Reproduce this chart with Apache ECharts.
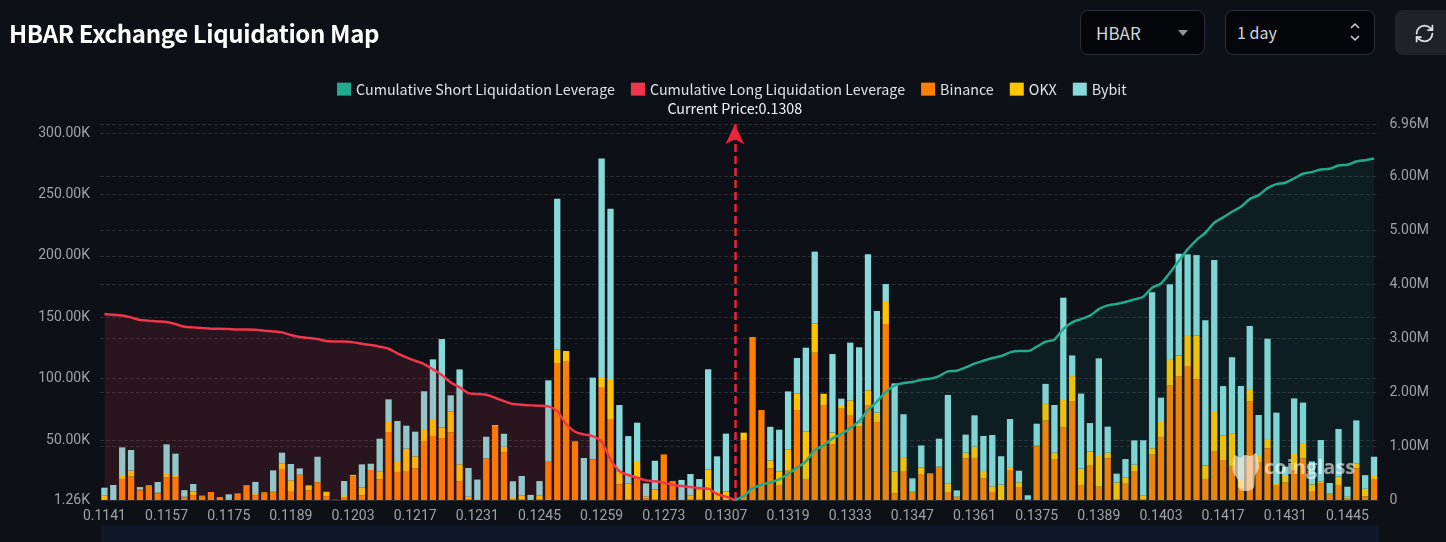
<!DOCTYPE html>
<html>
<head>
<meta charset="utf-8">
<title>HBAR Exchange Liquidation Map</title>
<script src="https://cdn.jsdelivr.net/npm/echarts@6/dist/echarts.min.js"></script>
<style>
  html, body { margin: 0; padding: 0; background: #0d1017; overflow: hidden; }
  #page { position: relative; width: 1446px; height: 542px; font-family: "Noto Sans CJK SC", "Noto Sans", sans-serif; }
  #chart { position: absolute; left: 0; top: 0; width: 1446px; height: 542px; }
  h1 { position: absolute; left: 9px; top: 16px; margin: 0; font-size: 24px; line-height: 34px; font-weight: 700; color: #fff; letter-spacing: -0.37px; }
  .box { position: absolute; top: 10px; height: 45px; box-sizing: border-box; border: 1px solid #2a2d33; border-radius: 8px; background: #050609; color: #cfd6dd; font-size: 16px; line-height: 43px; }
  .box svg { position: absolute; }
  #coin { left: 1080px; width: 125px; padding-left: 15px; font-size: 17px; }
  #period { left: 1225px; width: 150px; padding-left: 11px; }
  #refresh { position: absolute; left: 1395px; top: 10px; width: 60px; height: 45px; border-radius: 8px; background: #1f2329; }
  #strip { position: absolute; left: 101px; top: 525px; width: 1278px; height: 17px; background: #0f1729; }
</style>
</head>
<body>
<div id="page">
  <div id="chart"></div>
  <div id="strip"></div>
  <h1>HBAR Exchange Liquidation Map</h1>
  <div class="box" id="coin">HBAR
    <svg style="left:96px;top:18px" width="12" height="8"><path d="M1 1h10L6 7z" fill="#8f959c"/></svg>
  </div>
  <div class="box" id="period">1 day
    <svg style="left:122px;top:11px" width="14" height="20" fill="none" stroke="#cfd6dd" stroke-width="1.5"><path d="M3 6l4-4 4 4M3 14l4 4 4-4"/></svg>
  </div>
  <div id="refresh">
    <svg style="position:absolute;left:19px;top:13px" width="21" height="21" viewBox="0 0 24 24" fill="none" stroke="#dfe4e9" stroke-width="2" stroke-linecap="round" stroke-linejoin="round">
      <path d="M3 12a9 9 0 0 1 9-9 9.75 9.75 0 0 1 6.74 2.74L21 8"/><path d="M21 3v5h-5"/>
      <path d="M21 12a9 9 0 0 1-9 9 9.75 9.75 0 0 1-6.74-2.74L3 16"/><path d="M8 16H3v5"/>
    </svg>
  </div>
</div>
<script>
// axis labels shown under every 7th bar
const tickLabels = ['0.1141', '0.1157', '0.1175', '0.1189', '0.1203', '0.1217', '0.1231',
  '0.1245', '0.1259', '0.1273', '0.1307', '0.1319', '0.1333', '0.1347', '0.1361', '0.1375',
  '0.1389', '0.1403', '0.1417', '0.1431', '0.1445'];

// values in K, one per price level
const binance = [
  1.3, 1.3, 18.4, 20.3, 9.1, 12.1, 6.7, 19.7, 19.7, 3.4, 5.1, 4.0,
  7.8, 3.2, 1.3, 6.4, 13.2, 5.1, 6.7, 7.2, 26.5, 8.6, 21.6, 9.1,
  15.6, 4.2, 1.5, 3.7, 20.3, 5.1, 25.7, 18.1, 56.6, 24.1, 24.9, 27.0,
  49.3, 53.4, 51.7, 56.4, 16.5, 1.8, 1.3, 34.9, 61.5, 40.3, 2.1, 1.5,
  1.3, 1.5, 32.2, 112.8, 113.9, 48.5, 1.3, 34.4, 92.7, 67.2, 14.0, 1.5,
  18.9, 2.6, 1.5, 38.4, 16.5, 1.3, 2.1, 1.5, 1.3, 1.3, 1.3, 0,
  50.1, 133.7, 74.5, 27.0, 13.5, 25.1, 74.5, 18.4, 121.2, 78.6, 46.9, 75.6,
  70.5, 61.0, 78.1, 64.8, 144.6, 6.7, 24.9, 7.2, 22.4, 22.7, 28.1, 7.8,
  3.7, 35.2, 35.5, 18.9, 7.8, 1.3, 25.7, 11.3, 1.8, 45.0, 65.9, 34.6,
  60.4, 81.3, 13.5, 29.2, 12.1, 35.2, 1.5, 15.1, 24.3, 1.5, 38.2, 52.6,
  94.4, 102.2, 110.4, 99.5, 18.4, 41.2, 33.8, 29.0, 10.8, 81.9, 32.2, 43.3,
  13.5, 15.4, 25.7, 35.2, 8.0, 14.8, 5.6, 13.5, 2.4, 27.0, 4.2, 18.4];
const okx = [
  3.8, 0, 2.4, 4.9, 0.8, 1.1, 0.5, 2.7, 1.9, 0.5, 3.0, 0.8,
  0, 0.5, 0.8, 0.3, 0.3, 1.1, 0.8, 1.1, 4.3, 8.7, 0.5, 4.1,
  0.3, 3.8, 0, 0.8, 1.4, 6.2, 0.8, 6.2, 9.0, 8.1, 18.2, 9.8,
  9.0, 13.0, 8.7, 16.8, 13.8, 2.2, 0, 0.3, 0.8, 4.3, 0.8, 3.3,
  0, 3.3, 0.3, 11.1, 8.7, 0.5, 0, 0.3, 8.7, 32.6, 10.3, 13.3,
  14.1, 1.6, 8.4, 0, 0.3, 0, 2.7, 8.4, 24.7, 7.3, 6.8, 0,
  6.0, 0.3, 0, 6.5, 11.1, 17.4, 13.6, 38.5, 23.9, 9.2, 9.2, 2.2,
  11.9, 3.3, 12.5, 7.6, 18.7, 17.6, 10.6, 1.1, 5.4, 0.3, 0.3, 7.1,
  0.5, 4.6, 9.2, 6.0, 4.6, 12.5, 2.4, 4.3, 0, 0.5, 13.6, 5.2,
  22.3, 20.9, 13.3, 11.4, 25.8, 4.6, 14.1, 4.3, 5.7, 3.3, 5.2, 13.0,
  20.9, 16.8, 25.2, 35.8, 11.1, 32.6, 19.8, 26.1, 6.8, 9.0, 4.9, 7.6,
  0.8, 5.4, 13.0, 11.7, 6.0, 1.4, 0.8, 6.8, 1.6, 3.8, 6.2, 2.4];
const bybit = [
  6.2, 12.2, 23.3, 16.8, 1.9, 0, 8.7, 24.2, 17.4, 5.4, 6.2, 0,
  0, 0, 3.8, 0, 0, 9.8, 0, 17.1, 9.0, 13.3, 4.9, 0,
  20.6, 0, 0, 12.2, 0, 19.0, 4.3, 26.9, 17.6, 33.4, 18.7, 20.1,
  31.5, 49.4, 71.9, 13.3, 77.3, 23.3, 16.6, 17.6, 0, 10.6, 13.6, 16.0,
  4.1, 11.9, 66.2, 122.7, 0, 0, 34.2, 66.2, 178.0, 138.7, 54.3, 38.5,
  31.2, 10.6, 23.3, 0, 0, 16.3, 17.6, 8.4, 81.7, 28.2, 47.2, 0,
  0, 0, 0, 27.4, 33.9, 47.2, 28.8, 68.4, 58.4, 0, 64.0, 6.0,
  47.0, 61.3, 110.7, 82.8, 13.8, 71.9, 35.6, 10.6, 17.9, 0, 22.8, 71.9,
  4.9, 14.7, 25.5, 28.5, 41.8, 23.1, 39.1, 9.5, 3.3, 17.9, 16.3, 38.8,
  83.3, 16.8, 61.1, 23.3, 78.7, 21.2, 7.1, 15.2, 19.8, 45.1, 127.0, 19.0,
  61.6, 82.8, 65.7, 65.4, 118.1, 122.9, 40.4, 62.4, 76.5, 52.1, 33.4, 81.7,
  58.1, 7.6, 45.3, 33.7, 18.7, 33.9, 8.7, 38.8, 8.1, 35.3, 11.1, 15.7];

// cumulative leverage in M, long side runs down to the current price, short side up from it
const cumLong = [
  3.444, 3.432, 3.420, 3.383, 3.333, 3.321, 3.309, 3.296, 3.259, 3.210, 3.198, 3.185,
  3.173, 3.173, 3.167, 3.160, 3.160, 3.154, 3.136, 3.123, 3.105, 3.056, 3.019, 3.000,
  2.981, 2.944, 2.938, 2.938, 2.920, 2.895, 2.870, 2.840, 2.802, 2.716, 2.642, 2.580,
  2.519, 2.420, 2.315, 2.179, 2.086, 1.981, 1.963, 1.951, 1.895, 1.833, 1.778, 1.765,
  1.753, 1.747, 1.735, 1.648, 1.407, 1.265, 1.216, 1.185, 1.080, 0.753, 0.537, 0.463,
  0.414, 0.364, 0.346, 0.321, 0.284, 0.259, 0.241, 0.222, 0.210, 0.111, 0.062, 0];
const cumShort = [
  0, 0.074, 0.216, 0.278, 0.327, 0.383, 0.481, 0.599, 0.716, 0.926, 1.012, 1.142, 1.222,
  1.333, 1.463, 1.667, 1.821, 2.006, 2.117, 2.167, 2.185, 2.228, 2.247, 2.296, 2.383,
  2.395, 2.457, 2.525, 2.580, 2.630, 2.667, 2.735, 2.759, 2.759, 2.840, 2.932, 2.975,
  3.167, 3.290, 3.352, 3.414, 3.537, 3.605, 3.630, 3.667, 3.716, 3.765, 3.932, 4.012,
  4.210, 4.426, 4.642, 4.815, 4.951, 5.136, 5.235, 5.340, 5.432, 5.574, 5.648, 5.778,
  5.852, 5.877, 5.957, 6.043, 6.074, 6.123, 6.136, 6.198, 6.210, 6.272, 6.296, 6.327];

const currentPrice = '0.1308';
const currentIndex = cumLong.length - 1;

const categories = binance.map((v, i) => (i % 7 === 0 ? tickLabels[i / 7] : ''));
const longLine = binance.map((v, i) => (i < cumLong.length ? cumLong[i] : null));
const shortLine = binance.map((v, i) => (i >= currentIndex ? cumShort[i - currentIndex] : null));

const labelColor = '#9ea3a8';
const gridLine = { show: true, lineStyle: { color: '#2a2e33', type: 'dashed', width: 1 } };
const legendText = { color: '#dfe3e8', fontSize: 14.3, fontFamily: '"Noto Sans CJK SC", "Noto Sans", sans-serif' };

const chart = echarts.init(document.getElementById('chart'), null, { renderer: 'canvas' });

function barSeries(name, data, color) {
    return { name, type: 'bar', stack: 'exchanges', data, barWidth: '71%', itemStyle: { color }, z: 2 };
}

function cumSeries(name, data, color, opacity, extra) {
    return Object.assign({
        name, type: 'line', yAxisIndex: 1, data, smooth: 0.3, showSymbol: false,
        lineStyle: { color, width: 2.5 }, itemStyle: { color },
        areaStyle: { color, opacity }, z: 5
    }, extra);
}

chart.setOption({
    animation: false,
    backgroundColor: 'transparent',
    legend: {
        top: 82, left: 337, padding: 0, icon: 'rect', itemWidth: 14, itemHeight: 13, itemGap: 16,
        textStyle: legendText,
        data: ['Cumulative Short Liquidation Leverage', 'Cumulative Long Liquidation Leverage', 'Binance', 'OKX', 'Bybit']
    },
    grid: { left: 100, right: 67.5, top: 124.3, bottom: 42 },
    xAxis: {
        type: 'category',
        data: categories,
        axisLine: { lineStyle: { color: '#2a2e33' } },
        axisTick: { interval: 6, lineStyle: { color: '#2a2e33' } },
        axisLabel: { interval: 6, color: labelColor, fontSize: 14, fontFamily: 'Roboto', margin: 9 }
    },
    yAxis: [{
        type: 'value', min: 1.26, max: 307.2,
        axisLine: { show: false }, axisTick: { show: false },
        splitLine: gridLine,
        axisLabel: {
            color: labelColor, fontSize: 14, fontFamily: 'Roboto', margin: 10,
            formatter: v => (v === 307.2 ? '' : v.toFixed(2) + 'K')
        }
    }, {
        type: 'value', min: 0, max: 6.96,
        axisLine: { show: false }, axisTick: { show: false },
        splitLine: gridLine,
        axisLabel: {
            color: labelColor, fontSize: 14, fontFamily: 'Roboto', margin: 11,
            formatter: v => (v === 0 ? '0' : v.toFixed(2) + 'M')
        }
    }],
    series: [
        cumSeries('Cumulative Short Liquidation Leverage', shortLine, '#23a98d', 0.09),
        cumSeries('Cumulative Long Liquidation Leverage', longLine, '#f0364a', 0.12, {
            markLine: {
                silent: true, symbol: ['none', 'arrow'], symbolSize: [14, 20],
                lineStyle: { color: '#ee2238', type: [8, 4], width: 2.5 },
                label: {
                    position: 'end', distance: 9, color: '#f2f4f6', fontSize: 14.3,
                    fontFamily: '"Noto Sans CJK SC", "Noto Sans", sans-serif',
                    formatter: 'Current Price:' + currentPrice
                },
                data: [[{ coord: [currentIndex, 0] }, { coord: [currentIndex, 6.96] }]]
            }
        }),
        barSeries('Binance', binance, '#ff8000'),
        barSeries('OKX', okx, '#ffc400'),
        barSeries('Bybit', bybit, '#88d9da')
    ],
    graphic: [{
        type: 'text', x: 1264, y: 458, z: 20, silent: true,
        style: { text: 'coinglass', fill: 'rgba(255,255,255,0.58)', font: '700 20px "Open Sans"' }
    }, {
        type: 'polygon', z: 20, silent: true,
        shape: {
            smooth: 0.3,
            points: [[1235, 455], [1240, 458], [1245, 455], [1251, 456], [1256, 453], [1258, 460],
                [1259, 468], [1255, 476], [1253, 489], [1240, 490], [1238, 480], [1233, 472], [1233, 462]]
        },
        style: { fill: 'rgba(255,235,215,0.68)' }
    }]
});
</script>
</body>
</html>
